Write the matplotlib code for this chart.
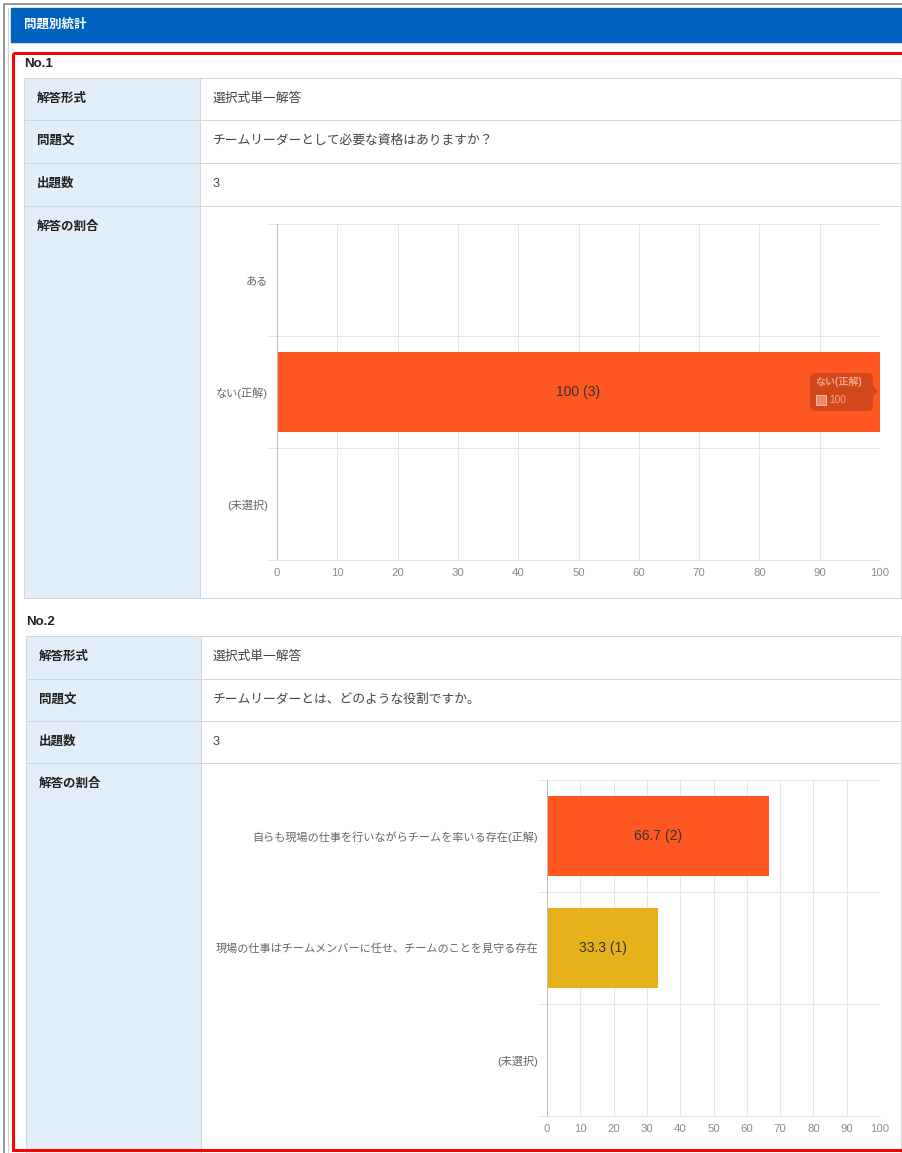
import matplotlib
matplotlib.use('Agg')
import matplotlib.pyplot as plt
from matplotlib.patches import Rectangle, FancyBboxPatch, Polygon
import numpy as np

plt.rcParams['font.family'] = ['Liberation Sans', 'Noto Sans CJK JP']

# data
page_title = '問題別統計'
row_labels = ['解答形式', '問題文', '出題数', '解答の割合']

q1_title = 'No.1'
q1_info = ['選択式単一解答', 'チームリーダーとして必要な資格はありますか？', '3']
q1_categories = ['ある', 'ない(正解)', '(未選択)']
q1_values = [0, 100, 0]
q1_counts = [0, 3, 0]
q1_correct = [False, True, False]

q2_title = 'No.2'
q2_info = ['選択式単一解答', 'チームリーダーとは、どのような役割ですか。', '3']
q2_categories = ['自らも現場の仕事を行いながらチームを率いる存在(正解)',
                 '現場の仕事はチームメンバーに任せ、チームのことを見守る存在',
                 '(未選択)']
q2_values = [66.7, 33.3, 0]
q2_counts = [2, 1, 0]
q2_correct = [True, False, False]

x_ticks = np.arange(0, 101, 10)

W, H = 903, 1153
ORANGE = '#FF5722'
YELLOW = '#E6B11B'
LABEL_BG = '#E2EEFA'
BORDER = '#D6D6D6'
PX = 0.72  # one pixel in points

fig = plt.figure(figsize=(W / 100, H / 100), dpi=100)
bg = fig.add_axes([0, 0, 1, 1])
bg.set_xlim(0, W)
bg.set_ylim(H, 0)
bg.axis('off')

# window frame + header
bg.plot([4, 4], [4, H], color='#9A9A9A', lw=2 * PX)
bg.plot([4, W], [4, 4], color='#9A9A9A', lw=2 * PX)
bg.plot([8, 8], [8, H], color='#D0D0D0', lw=PX)
bg.add_patch(Rectangle((11, 8), W - 11, 34, color='#0062C0'))
bg.plot([11, W], [43, 43], color='#D0D8E2', lw=PX)
bg.text(24, 25, page_title, color='white', fontsize=9, fontweight='bold',
        va='center', ha='left')

# red selection box
bg.add_patch(Rectangle((13, 53), W + 20, 1149.5 - 53, fill=False,
                       ec='#FF0000', lw=3 * PX, zorder=10))


def draw_table(title, title_pos, left, split, right, edges, info):
    bg.text(title_pos[0], title_pos[1], title, fontsize=9.5, fontweight='bold',
            color='#222', va='center', ha='left')
    bg.add_patch(Rectangle((left, edges[0]), split - left, edges[-1] - edges[0],
                           color=LABEL_BG, lw=0))
    for e in edges:
        bg.plot([left, right], [e, e], color=BORDER, lw=PX)
    for xv in (left, split, right):
        bg.plot([xv, xv], [edges[0], edges[-1]], color=BORDER, lw=PX)
    for i, lab in enumerate(row_labels):
        bg.text(left + 13, edges[i] + 21, lab, fontsize=9, fontweight='bold',
                color='#222', va='center', ha='left')
        if i < len(info):
            bg.text(213, edges[i] + 21, info[i], fontsize=9.2, color='#444',
                    va='center', ha='left')


draw_table(q1_title, (24, 64), 24, 200, 901, [78, 120, 163, 206, 598], q1_info)
draw_table(q2_title, (26, 622), 26, 201, 901, [636, 679, 721, 763, 1170], q2_info)


def px_axes(x0, y0, x1, y1):
    return fig.add_axes([x0 / W, 1 - y1 / H, (x1 - x0) / W, (y1 - y0) / H])


def draw_chart(ax, cats, vals, counts, correct):
    y = np.arange(len(cats))
    colors = [ORANGE if c else YELLOW for c in correct]
    ax.barh(y, vals, height=0.715, color=colors, zorder=2)
    ax.set_xlim(0, 100)
    ax.set_ylim(len(cats) - 0.5, -0.5)
    ax.set_xticks(x_ticks)
    ax.set_yticks(y)
    ax.set_yticklabels(cats)
    ax.set_yticks(np.arange(-0.5, len(cats)), minor=True)
    ax.set_axisbelow(True)
    ax.grid(axis='x', color='#E6E6E6', lw=PX)
    ax.grid(axis='y', which='minor', color='#E6E6E6', lw=PX)
    ax.tick_params(axis='y', which='major', length=0, pad=6.5,
                   labelsize=8, labelcolor='#666666')
    ax.tick_params(axis='y', which='minor', length=6.5, color='#E6E6E6',
                   width=PX)
    ax.tick_params(axis='x', length=0, pad=6, labelsize=8.2,
                   labelcolor='#8C8C8C')
    for s in ('top', 'right'):
        ax.spines[s].set_visible(False)
    ax.spines['left'].set_color('#BDBDBD')
    ax.spines['left'].set_linewidth(PX)
    ax.spines['bottom'].set_color('#E3E3E3')
    ax.spines['bottom'].set_linewidth(PX)
    for yi, v, c in zip(y, vals, counts):
        if v > 0:
            ax.text(v / 2, yi, f'{v:g} ({c})', ha='center', va='center',
                    fontsize=10, color='#333333', zorder=3)


ax1 = px_axes(277, 224, 880, 560)
draw_chart(ax1, q1_categories, q1_values, q1_counts, q1_correct)

ax2 = px_axes(547, 780, 880, 1116)
draw_chart(ax2, q2_categories, q2_values, q2_counts, q2_correct)

# hover tooltip on the No.1 bar
top = fig.add_axes([0, 0, 1, 1])
top.set_xlim(0, W)
top.set_ylim(H, 0)
top.axis('off')
top.patch.set_alpha(0)
top.add_patch(FancyBboxPatch((810, 373), 63, 38,
                             boxstyle='round,pad=0,rounding_size=5',
                             fc='#D2481C', ec='none'))
top.add_patch(Polygon([(873, 386), (878, 391), (873, 396)], closed=True,
                      fc='#D2481C', ec='none'))
top.text(815, 382, q1_categories[1], fontsize=7.2, fontweight='bold',
         color='#F4A587', va='center', ha='left')
top.add_patch(Rectangle((816, 395), 10, 10, fc='#F08A66', ec='#F6B9A0', lw=PX))
top.text(829, 400, f'{q1_values[1]:g}', fontsize=7.2, color='#F4A587',
         va='center', ha='left')

fig.savefig('out.png', dpi=100)
